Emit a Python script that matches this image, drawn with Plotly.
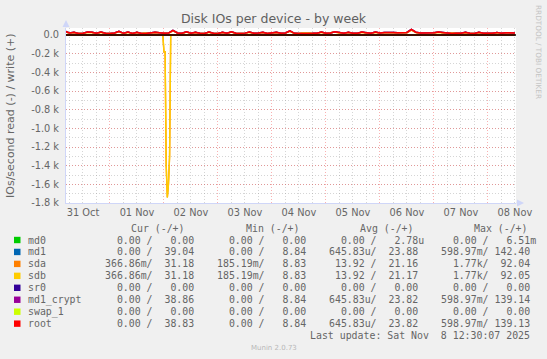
import plotly.graph_objects as go
import pandas as pd

# ---------------- data ----------------
series_names = ["md0", "md1", "sda", "sdb", "sr0", "md1_crypt", "swap_1", "root"]
series_colors = ["#00CC00", "#0066B3", "#FF8000", "#FFCC00", "#330099", "#990099", "#CCFF00", "#FF0000"]

# write (+) values, one sample every 2 hours starting at write_start
write_start = "2025-10-31 04:00"
write_step = "2h"
root_write = [40, 22, 30, 17, 18, 32, 30, 18, 33, 18,
              17, 22, 40, 18, 32, 17, 30, 17, 15, 20,
              30, 25, 18, 20, 50, 22, 18, 35, 18, 30,
              18, 17, 32, 18, 17, 30, 18, 35, 18, 17,
              20, 32, 18, 22, 30, 17, 25, 30, 18, 22,
              45, 18, 17, 15, 14, 18, 20, 32, 18, 22,
              35, 25, 18, 30, 18, 20, 32, 25, 18, 33,
              22, 28, 30, 28, 25, 25, 28, 60, 30, 22,
              22, 30, 25, 32, 28, 18, 15, 18, 18, 28,
              18, 17, 28, 18, 17, 20, 28, 18, 25, 20, 22]
md1_crypt_write = root_write
md1_write = root_write
sdb_write = [36, 20, 27, 16, 16, 28, 27, 16, 29, 16,
             16, 20, 34, 16, 28, 16, 27, 16, 24, 18,
             27, 22, 16, 18, 44, 20, 16, 31, 16, 27,
             16, 16, 29, 16, 16, 27, 16, 31, 16, 16,
             18, 29, 16, 20, 27, 16, 22, 27, 16, 20,
             40, 16, 16, 24, 23, 16, 18, 29, 16, 20,
             31, 22, 16, 27, 16, 18, 29, 22, 16, 30,
             20, 25, 27, 25, 22, 22, 25, 52, 27, 20,
             20, 27, 22, 29, 25, 16, 23, 16, 16, 25,
             16, 16, 25, 16, 16, 18, 25, 16, 22, 18, 20]
sda_write = sdb_write

# series that stay at zero for the whole week
zero_times = ["2025-10-31 04:00", "2025-11-08 12:00"]
zero_values = [0, 0]

# read (-) values (plotted below zero)
read_times = ["2025-10-31 04:00", "2025-11-01 23:30", "2025-11-02 00:00", "2025-11-02 00:30",
              "2025-11-02 01:00", "2025-11-02 01:30", "2025-11-02 02:00", "2025-11-02 02:30",
              "2025-11-02 03:00", "2025-11-08 12:00"]
sdb_read = [0, 0, 180, 180, 1400, 1740, 1600, 1300, 0, 0]
sda_read = sdb_read

x_range = ["2025-10-31 04:27", "2025-11-08 12:30"]
y_range = [-1800, 75]
y_tick_vals = [0, -200, -400, -600, -800, -1000, -1200, -1400, -1600, -1800]
y_tick_text = ["0.0", "-0.2 k", "-0.4 k", "-0.6 k", "-0.8 k", "-1.0 k",
               "-1.2 k", "-1.4 k", "-1.6 k", "-1.8 k"]

# legend table values
cur_read = ["0.00", "0.00", "366.86m", "366.86m", "0.00", "0.00", "0.00", "0.00"]
cur_write = ["0.00", "39.04", "31.18", "31.18", "0.00", "38.86", "0.00", "38.83"]
min_read = ["0.00", "0.00", "185.19m", "185.19m", "0.00", "0.00", "0.00", "0.00"]
min_write = ["0.00", "8.84", "8.83", "8.83", "0.00", "8.84", "0.00", "8.84"]
avg_read = ["0.00", "645.83u", "13.92", "13.92", "0.00", "645.83u", "0.00", "645.83u"]
avg_write = ["2.78u", "23.88", "21.16", "21.17", "0.00", "23.82", "0.00", "23.82"]
max_read = ["0.00", "598.97m", "1.77k", "1.77k", "0.00", "598.97m", "0.00", "598.97m"]
max_write = ["6.51m", "142.40", "92.04", "92.05", "0.00", "139.14", "0.00", "139.13"]
column_headers = ["Cur (-/+)", "Min (-/+)", "Avg (-/+)", "Max (-/+)"]
last_update = "Last update: Sat Nov  8 12:30:07 2025"

# ---------------- figure ----------------
W, H = 547, 359
L, R, T, B = 66, 516, 28, 203
FONT = "DejaVu Sans"
MONO = "DejaVu Sans Mono"
TXT = "#666666"
NB = "\u00a0"


def px(x):
    return (x - L) / (R - L)


def py(y):
    return (B - y) / (B - T)


write_times = pd.date_range(write_start, periods=len(root_write), freq=write_step)
write_data = {
    "md0": (zero_times, zero_values),
    "md1": (write_times, md1_write),
    "sda": (write_times, sda_write),
    "sdb": (write_times, sdb_write),
    "sr0": (zero_times, zero_values),
    "md1_crypt": (write_times, md1_crypt_write),
    "swap_1": (zero_times, zero_values),
    "root": (write_times, root_write),
}
read_data = {
    "md0": (zero_times, zero_values),
    "md1": (zero_times, zero_values),
    "sda": (read_times, sda_read),
    "sdb": (read_times, sdb_read),
    "sr0": (zero_times, zero_values),
    "md1_crypt": (zero_times, zero_values),
    "swap_1": (zero_times, zero_values),
    "root": (zero_times, zero_values),
}

fig = go.Figure()
for name, color in zip(series_names, series_colors):
    t, v = read_data[name]
    fig.add_trace(go.Scatter(x=t, y=[-a for a in v], mode="lines",
                             line=dict(color=color, width=1.4), hoverinfo="skip"))
    t, v = write_data[name]
    fig.add_trace(go.Scatter(x=t, y=v, mode="lines",
                             line=dict(color=color, width=1.5), hoverinfo="skip"))

# zero rule
fig.add_shape(type="line", xref="paper", yref="y", x0=0, x1=1, y0=0, y1=0,
              line=dict(color="#000000", width=1.6), layer="above")

grid_major = "rgba(240,60,60,0.4)"
grid_minor = "rgba(150,150,150,0.4)"
axis_col = "#CFD6F8"

fig.update_xaxes(
    type="date", range=x_range,
    dtick=86400000, tick0="2025-10-31 00:00", ticklabelmode="period",
    tickformat="%d %b", ticks="", showgrid=True, gridcolor=grid_major,
    griddash="1px,2px", gridwidth=1,
    minor=dict(dtick=6 * 3600000, tick0="2025-10-31 00:00", showgrid=True,
               gridcolor=grid_minor, griddash="1px,2px", gridwidth=1),
    showline=True, linecolor=axis_col, linewidth=1,
    tickfont=dict(family=FONT, size=9.8, color=TXT), zeroline=False,
    fixedrange=True,
)
fig.update_yaxes(
    range=y_range, tickmode="array", tickvals=y_tick_vals, ticktext=y_tick_text,
    ticks="", showgrid=True, gridcolor=grid_major, griddash="1px,2px", gridwidth=1,
    minor=dict(dtick=100, tick0=0, showgrid=True, gridcolor=grid_minor,
               griddash="1px,2px", gridwidth=1),
    showline=True, linecolor=axis_col, linewidth=1, zeroline=False,
    tickfont=dict(family=FONT, size=9.8, color=TXT), ticklabelstandoff=4,
    fixedrange=True,
)

ann = []
# axis arrows
ann.append(dict(xref="paper", yref="paper", x=0, y=py(T - 8), ax=0, ay=9,
                axref="pixel", ayref="pixel", text="", showarrow=True,
                arrowhead=2, arrowsize=1.4, arrowwidth=1, arrowcolor=axis_col))
ann.append(dict(xref="paper", yref="paper", x=px(R + 8), y=0, ax=-9, ay=0,
                axref="pixel", ayref="pixel", text="", showarrow=True,
                arrowhead=2, arrowsize=1.4, arrowwidth=1, arrowcolor=axis_col))
# y axis title
ann.append(dict(xref="paper", yref="paper", x=px(10), y=py(116), text="IOs/second read (-) / write (+)",
                textangle=-90, showarrow=False, xanchor="center", yanchor="middle",
                font=dict(family=FONT, size=11, color=TXT)))
# watermark
ann.append(dict(xref="paper", yref="paper", x=px(539), y=py(52), text="RRDTOOL / TOBI OETIKER",
                textangle=90, showarrow=False, xanchor="center", yanchor="middle",
                font=dict(family=FONT, size=7.3, color="#c4c4c4")))
ann.append(dict(xref="paper", yref="paper", x=px(273.5), y=py(347.5), text="Munin 2.0.73",
                showarrow=False, xanchor="center", yanchor="middle",
                font=dict(family=FONT, size=7, color="#b8b8b8")))

# legend table
header_x = [128.7, 243.5, 357.5, 472.3]
block_x = [102.6, 215.0, 327.0, 438.5]
row_y0 = 240.0
row_dy = 11.95


def split(v):
    if v[-1].isalpha():
        return v[:-1], v[-1]
    return v, " "


def block(r, w):
    rn, rs = split(r)
    wn, ws = split(w)
    s = f"{rn:>6}{rs}/{wn:>7}{ws.strip()}"
    return s.replace(" ", NB)


for hx, h in zip(header_x, column_headers):
    ann.append(dict(xref="paper", yref="paper", x=px(hx), y=py(228.3), text=h.replace(" ", NB),
                    showarrow=False, xanchor="left", yanchor="middle",
                    font=dict(family=MONO, size=9.9, color=TXT)))

shapes = []
for i, (name, color) in enumerate(zip(series_names, series_colors)):
    yy = row_y0 + i * row_dy
    shapes.append(dict(type="rect", xref="paper", yref="paper",
                       x0=px(14), x1=px(20.5), y0=py(yy + 3.2), y1=py(yy - 3.2),
                       fillcolor=color, line=dict(width=0)))
    ann.append(dict(xref="paper", yref="paper", x=px(26), y=py(yy), text=name,
                    showarrow=False, xanchor="left", yanchor="middle",
                    font=dict(family=MONO, size=9.9, color=TXT)))
    cols = [(cur_read[i], cur_write[i]), (min_read[i], min_write[i]),
            (avg_read[i], avg_write[i]), (max_read[i], max_write[i])]
    for bx, (r, w) in zip(block_x, cols):
        ann.append(dict(xref="paper", yref="paper", x=px(bx), y=py(yy), text=block(r, w),
                        showarrow=False, xanchor="left", yanchor="middle",
                        font=dict(family=MONO, size=9.9, color=TXT)))

ann.append(dict(xref="paper", yref="paper", x=px(532), y=py(row_y0 + 8 * row_dy),
                text=last_update.replace(" ", NB), showarrow=False, xanchor="right",
                yanchor="middle", font=dict(family=MONO, size=9.9, color=TXT)))

for s in shapes:
    fig.add_shape(**s)

fig.update_layout(
    width=W, height=H,
    margin=dict(l=L, r=W - R, t=T, b=H - B, pad=0),
    paper_bgcolor="#F0F0F0", plot_bgcolor="#FFFFFF",
    showlegend=False, hovermode=False,
    title=dict(text="Disk IOs per device - by week", x=273.5 / W, xanchor="center",
               y=1 - 19 / H, yanchor="middle",
               font=dict(family=FONT, size=12.5, color="#606060")),
    annotations=ann,
)

fig.write_html("out.html", config={"displayModeBar": False, "staticPlot": True})
